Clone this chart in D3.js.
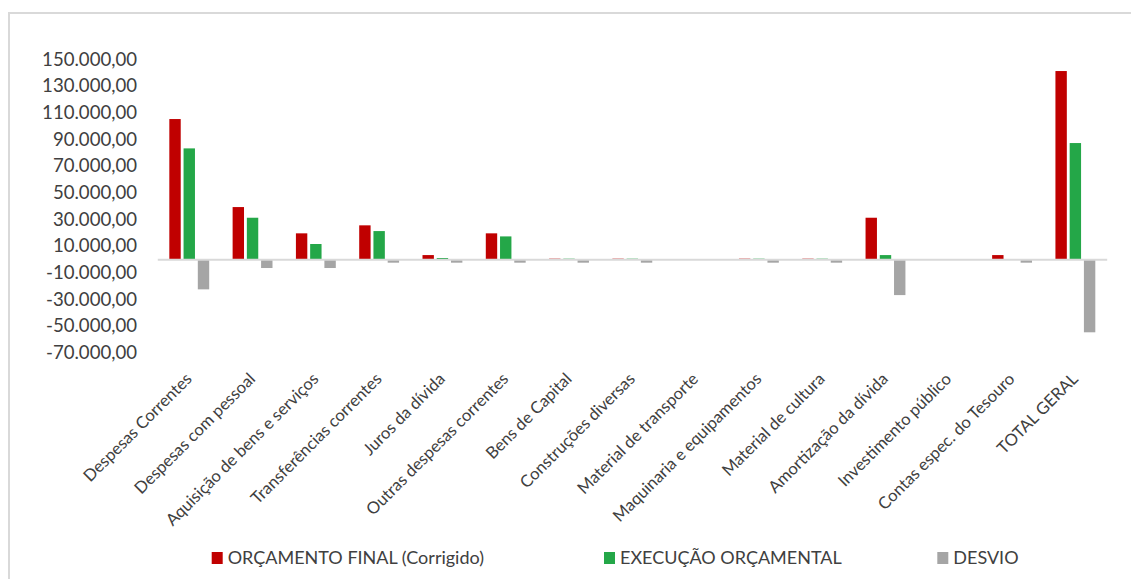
<!DOCTYPE html>
<html>
<head>
<meta charset="utf-8">
<script src="https://cdn.jsdelivr.net/npm/d3@7"></script>
<style>
  html, body { margin: 0; padding: 0; background: #ffffff; }
  svg { display: block; }
  text { font-family: Lato, "Open Sans", sans-serif; fill: #404040; }
</style>
</head>
<body>
<svg id="chart" width="1131" height="579"></svg>
<script>
// ---- data ----
const categories = [
  "Despesas Correntes", "Despesas com pessoal", "Aquisição de bens e serviços",
  "Transferências correntes", "Juros da dívida", "Outras despesas correntes",
  "Bens de Capital", "Construções diversas", "Material de transporte",
  "Maquinaria e equipamentos", "Material de cultura", "Amortização da dívida",
  "Investimento público", "Contas espec. do Tesouro", "TOTAL GERAL"
];
const seriesNames = ["ORÇAMENTO FINAL (Corrigido)", "EXECUÇÃO ORÇAMENTAL", "DESVIO"];
const orcamentoFinal = [105200, 39200, 19500, 25500, 3200, 19500, 500, 500, 0, 500, 500, 31200, 0, 3200, 141200];
const execucaoOrcamental = [83200, 31200, 11500, 21200, 1000, 17200, 500, 500, 0, 500, 500, 3200, 0, 0, 87200];
const desvio = [-22500, -6500, -6500, -2500, -2500, -2500, -2500, -2500, 0, -2500, -2500, -26800, 0, -2500, -54700];
const yTicks = [150000, 130000, 110000, 90000, 70000, 50000, 30000, 10000, -10000, -30000, -50000, -70000];

const colors = ["#C00000", "#24A748", "#A5A5A5"];
const seriesValues = [orcamentoFinal, execucaoOrcamental, desvio];

// ---- layout ----
const svg = d3.select("#chart");
const W = 1131, H = 579;

// frame (partial border like the reference)
svg.append("line").attr("x1", 9).attr("x2", W).attr("y1", 13).attr("y2", 13)
  .attr("stroke", "#d9d9d9").attr("stroke-width", 2);
svg.append("line").attr("x1", 9).attr("x2", 9).attr("y1", 12).attr("y2", H)
  .attr("stroke", "#d9d9d9").attr("stroke-width", 2);

const plotLeft = 157.3, plotRight = 1106.7, plotTop = 59.3, plotBottom = 352.7;

const x = d3.scaleBand().domain(categories).range([plotLeft, plotRight]).padding(0);
const x1 = d3.scaleBand().domain(seriesNames)
  .range([x.bandwidth() * 0.19, x.bandwidth() * 0.82]).paddingInner(0.2);
const y = d3.scaleLinear().domain([-70000, 150000]).range([plotBottom, plotTop]);

const locale = d3.formatLocale({ decimal: ",", thousands: ".", grouping: [3], currency: ["", ""], minus: "-" });
const fmt = locale.format(",.2f");

// y axis (labels only)
const yAxis = d3.axisLeft(y).tickValues(yTicks).tickFormat(fmt).tickSize(0).tickPadding(0);
const yg = svg.append("g").attr("transform", "translate(137,0)").call(yAxis);
yg.select(".domain").remove();
yg.selectAll("text").style("font-size", "18.6px").attr("fill", "#404040")
  .style("font-family", "Lato, 'Open Sans', sans-serif");

// bars
const groups = svg.append("g").selectAll("g").data(categories).join("g")
  .attr("transform", d => `translate(${x(d)},0)`);
groups.selectAll("rect")
  .data((d, i) => seriesNames.map((s, k) => ({ s, k, v: seriesValues[k][i] })))
  .join("rect")
  .attr("x", d => x1(d.s))
  .attr("width", x1.bandwidth())
  .attr("y", d => Math.min(y(d.v), y(0)))
  .attr("height", d => Math.abs(y(d.v) - y(0)))
  .attr("fill", d => colors[d.k]);

// category axis (zero line)
const xAxis = d3.axisBottom(x).tickSize(0).tickFormat("");
const xg = svg.append("g").attr("transform", `translate(0,${y(0)})`).call(xAxis);
xg.select(".domain").attr("stroke", "#d9d9d9").attr("stroke-width", 2);

// rotated category labels
svg.append("g").selectAll("text").data(categories).join("text")
  .attr("transform", d => `translate(${x(d) + x.bandwidth() / 2 + 4},380) rotate(-45)`)
  .attr("text-anchor", "end")
  .style("font-size", "16.6px")
  .text(d => d);

// legend
const legendX = [211.7, 604, 937.3];
const leg = svg.append("g").selectAll("g").data(seriesNames).join("g")
  .attr("transform", (d, i) => `translate(${legendX[i]},552)`);
leg.append("rect").attr("width", 11).attr("height", 12).attr("fill", (d, i) => colors[i]);
leg.append("text").attr("x", 16).attr("y", 6).attr("dy", "0.36em")
  .style("font-size", "18px").text(d => d);
</script>
</body>
</html>
